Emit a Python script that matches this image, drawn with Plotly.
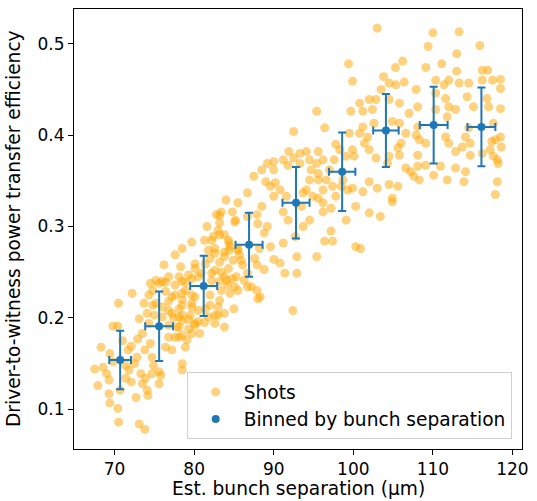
import plotly.graph_objects as go

# ---- Individual shots ----
shots_x = [
    67.5, 68.3, 67.9, 68.55, 69.4, 69.3, 69.8, 70.4, 70.5, 69.3, 69.4, 70.4, 70.5, 69.0, 69.8, 70.7,
    71.0, 71.7, 72.1, 71.4, 71.8, 72.2, 73.1, 72.9, 72.8, 72.5, 73.3, 73.9, 74.1, 73.1, 73.8, 74.2,
    73.5, 72.1, 71.4, 72.7, 73.7, 74.1, 74.3, 73.5, 73.8, 74.5, 74.7, 74.9, 74.7, 75.8, 75.6, 75.6,
    74.3, 75.2, 75.6, 74.5, 76.4, 77.2, 76.8, 76.0, 76.8, 77.6, 77.2, 76.4, 77.8, 79.1, 78.9, 78.5,
    78.5, 78.1, 78.5, 79.5, 80.1, 80.5, 79.7, 78.9, 77.6, 78.1, 79.7, 80.9, 82.2, 82.6, 81.8, 81.4,
    80.1, 81.4, 77.6, 76.2, 75.2,
    87.5, 86.7, 85.5, 84.0, 83.4, 84.8, 85.2, 86.7, 87.9, 87.9, 86.7, 85.9, 85.5, 84.4, 83.8, 83.0,
    82.2, 81.3, 81.8, 82.6, 83.8, 84.4, 83.2, 81.6, 82.8, 79.7, 78.5, 78.3, 80.5, 82.6, 83.8, 84.8,
    84.2, 83.4, 85.5, 86.7, 87.9, 88.3, 85.0, 83.8, 83.0, 81.3, 80.5, 78.5, 74.8, 76.0, 77.2, 78.5,
    79.3, 78.1, 76.8, 80.1, 78.9, 92.4,
    83.2, 85.1, 88.0, 82.4, 83.2, 84.3, 84.5, 83.8, 82.6, 82.0, 83.2, 84.3, 84.9, 85.7, 85.5, 86.1,
    87.6, 88.2, 80.1, 79.3, 76.8, 76.0, 78.5, 77.6, 76.4, 76.8, 78.5, 79.7, 79.7, 78.1, 78.5, 77.4,
    74.8, 75.0, 78.1, 79.3, 80.1, 80.7, 79.7, 78.5, 82.6, 83.0, 83.2, 84.5, 87.2, 88.0, 83.8, 82.0,
    82.0, 83.2, 83.4, 82.2, 84.1, 85.1, 85.3, 86.3,
    99.9, 95.4, 92.5, 96.4, 99.7, 99.5, 100.3, 100.3, 100.9, 99.1, 97.8, 97.6, 98.3, 99.9, 100.1, 98.5,
    99.3, 99.9, 98.7, 97.0, 96.6, 97.4, 97.8, 99.1, 96.2, 95.6, 95.4, 94.5, 94.1, 93.3, 91.9, 92.5,
    93.3, 95.6, 96.2, 94.7, 95.6, 94.5, 94.1, 94.9, 93.7, 95.6, 96.2, 97.2, 96.2, 94.5, 93.7, 92.7,
    91.6, 90.8, 90.0, 89.6, 89.0, 90.0, 89.2, 90.0, 91.2, 88.5, 88.5, 89.2, 88.8, 89.6, 90.0, 90.8,
    91.2, 92.9, 92.9, 88.8, 91.4, 95.4, 96.4, 97.4, 97.2, 104.9, 103.4, 102.0, 99.4,
    91.8, 91.2, 93.5, 90.2, 91.8,
    103.0, 110.0, 113.3, 109.4, 115.9, 113.0, 106.2, 105.3, 109.1, 111.1, 116.2, 116.9, 103.8, 113.0,
    112.0, 110.35, 116.2, 117.5, 118.5, 118.5, 114.5, 113.3, 111.4, 106.4, 105.35, 104.5, 103.5, 104.5,
    102.85, 102.0, 100.8, 101.2, 102.4, 105.8, 107.0, 108.1, 107.9, 110.35, 111.6, 112.0, 112.85, 114.3,
    115.1, 116.8, 117.0, 118.5, 117.6, 117.85, 117.4, 118.5, 118.6, 117.2, 118.1, 117.6, 118.2, 118.1,
    117.85, 116.2, 114.7, 114.1, 113.9, 112.85, 111.8, 110.95, 110.1, 109.1, 108.1, 107.6, 108.3, 107.2,
    108.1, 109.1, 108.3, 111.6, 112.0, 112.85, 111.8, 110.35, 108.1, 107.9, 106.6, 106.0, 105.6, 105.8,
    104.5, 104.3, 102.85, 102.0, 101.4, 101.8, 100.8, 101.2, 102.6, 104.9, 105.8, 106.6, 104.5, 105.6,
    102.0, 103.0, 101.2, 104.9, 114.5, 114.1, 113.7, 114.7,
]
shots_y = [
    0.144, 0.168, 0.126, 0.146, 0.161, 0.132, 0.191, 0.191, 0.216, 0.117, 0.107, 0.101, 0.086, 0.139, 0.152, 0.121,
    0.175, 0.165, 0.169, 0.148, 0.143, 0.227, 0.199, 0.177, 0.157, 0.150, 0.139, 0.134, 0.121, 0.084, 0.078, 0.115,
    0.128, 0.130, 0.134, 0.113, 0.216, 0.205, 0.194, 0.183, 0.165, 0.172, 0.157, 0.148, 0.139, 0.137, 0.128, 0.141,
    0.225, 0.216, 0.238, 0.238, 0.239, 0.223, 0.208, 0.201, 0.192, 0.179, 0.165, 0.168, 0.190, 0.176, 0.168, 0.150,
    0.143, 0.201, 0.214, 0.203, 0.194, 0.196, 0.216, 0.230, 0.236, 0.245, 0.243, 0.249, 0.241, 0.194, 0.201, 0.210,
    0.259, 0.259, 0.269, 0.258, 0.241,
    0.355, 0.337, 0.326, 0.329, 0.316, 0.316, 0.307, 0.311, 0.313, 0.258, 0.249, 0.263, 0.274, 0.282, 0.291, 0.296,
    0.285, 0.285, 0.274, 0.271, 0.267, 0.274, 0.304, 0.300, 0.313, 0.283, 0.276, 0.256, 0.245, 0.252, 0.245, 0.243,
    0.236, 0.230, 0.230, 0.234, 0.230, 0.223, 0.210, 0.190, 0.203, 0.195, 0.208, 0.227, 0.230, 0.212, 0.205, 0.197,
    0.188, 0.179, 0.179, 0.223, 0.239, 0.208,
    0.312, 0.305, 0.303, 0.289, 0.291, 0.285, 0.278, 0.272, 0.276, 0.265, 0.261, 0.254, 0.263, 0.269, 0.276, 0.258,
    0.265, 0.276, 0.254, 0.247, 0.245, 0.240, 0.240, 0.225, 0.229, 0.218, 0.220, 0.225, 0.212, 0.210, 0.203, 0.200,
    0.214, 0.203, 0.190, 0.198, 0.192, 0.183, 0.183, 0.181, 0.203, 0.212, 0.219, 0.227, 0.234, 0.221, 0.205, 0.214,
    0.225, 0.240, 0.250, 0.249, 0.241, 0.234, 0.245, 0.241,
    0.459, 0.426, 0.404, 0.408, 0.426, 0.402, 0.322, 0.278, 0.276, 0.377, 0.390, 0.373, 0.384, 0.384, 0.377, 0.344,
    0.340, 0.342, 0.351, 0.362, 0.351, 0.344, 0.333, 0.307, 0.340, 0.351, 0.369, 0.373, 0.382, 0.380, 0.382, 0.375,
    0.369, 0.382, 0.373, 0.362, 0.358, 0.351, 0.340, 0.333, 0.337, 0.331, 0.326, 0.320, 0.316, 0.307, 0.300, 0.289,
    0.333, 0.340, 0.333, 0.344, 0.349, 0.362, 0.369, 0.371, 0.373, 0.362, 0.322, 0.300, 0.293, 0.278, 0.264, 0.260,
    0.282, 0.267, 0.249, 0.253, 0.249, 0.267, 0.284, 0.284, 0.295, 0.327, 0.311, 0.315, 0.478,
    0.307, 0.316, 0.322, 0.348, 0.367,
    0.517, 0.512, 0.513, 0.497, 0.498, 0.489, 0.481, 0.474, 0.474, 0.478, 0.471, 0.471, 0.464, 0.470,
    0.460, 0.460, 0.460, 0.460, 0.461, 0.451, 0.457, 0.457, 0.455, 0.458, 0.455, 0.457, 0.450, 0.439,
    0.439, 0.439, 0.435, 0.426, 0.428, 0.435, 0.424, 0.431, 0.450, 0.446, 0.440, 0.431, 0.428, 0.442,
    0.431, 0.440, 0.431, 0.429, 0.413, 0.395, 0.393, 0.398, 0.387, 0.384, 0.373, 0.377, 0.369, 0.349,
    0.335, 0.380, 0.378, 0.360, 0.349, 0.364, 0.351, 0.366, 0.356, 0.367, 0.366, 0.355, 0.351, 0.360,
    0.378, 0.391, 0.395, 0.398, 0.391, 0.382, 0.420, 0.428, 0.409, 0.400, 0.402, 0.391, 0.386, 0.378,
    0.377, 0.369, 0.375, 0.384, 0.391, 0.398, 0.402, 0.409, 0.413, 0.415, 0.413, 0.364, 0.346, 0.344,
    0.349, 0.342, 0.338, 0.331, 0.408, 0.398, 0.387, 0.391,
]

# ---- Binned by bunch separation ----
bin_x = [70.7, 75.6, 81.2, 86.9, 92.8, 98.6, 104.1, 110.1, 116.1]
bin_y = [0.154, 0.191, 0.235, 0.280, 0.326, 0.360, 0.405, 0.411, 0.409]
bin_xerr = [1.37, 1.75, 1.7, 1.7, 1.7, 1.66, 1.6, 1.75, 1.75]
bin_yerr = [0.032, 0.038, 0.033, 0.035, 0.039, 0.043, 0.040, 0.042, 0.043]

x_ticks = [70, 80, 90, 100, 110, 120]
y_ticks = [0.1, 0.2, 0.3, 0.4, 0.5]

x_title = "Est. bunch separation (µm)"
y_title = "Driver-to-witness power transfer efficiency"

FONT = "DejaVu Sans"
BLUE = "#1f77b4"
TICK_SIZE = 17
TEXT_SIZE = 18.6

fig = go.Figure()
fig.add_trace(go.Scatter(
    x=shots_x, y=shots_y, mode="markers", name="Shots",
    marker=dict(color="rgba(255,165,0,0.5)", size=9, line=dict(width=0)),
))
fig.add_trace(go.Scatter(
    x=bin_x, y=bin_y, mode="markers", name="Binned by bunch separation",
    marker=dict(color=BLUE, size=8),
    error_y=dict(type="data", array=bin_yerr, color=BLUE, thickness=2, width=4),
    error_x=dict(type="data", array=bin_xerr, color=BLUE, thickness=2, width=4),
))

axis_common = dict(
    showline=True, linecolor="black", linewidth=1, mirror=True,
    ticks="outside", ticklen=5, tickwidth=1, tickcolor="black",
    showgrid=False, zeroline=False,
    tickfont=dict(family=FONT, size=TICK_SIZE, color="black"),
)
fig.update_xaxes(range=[64.9, 121.2], tickvals=x_ticks, ticktext=[str(v) for v in x_ticks], **axis_common)
fig.update_yaxes(range=[0.0566, 0.538], tickvals=y_ticks, ticktext=[f"{v:.1f}" for v in y_ticks], **axis_common)

# axis titles as annotations for precise placement
fig.add_annotation(
    text=x_title, xref="paper", yref="paper", x=0.5, y=0,
    xanchor="center", yanchor="middle", yshift=-39, showarrow=False,
    font=dict(family=FONT, size=TEXT_SIZE, color="black"),
)
fig.add_annotation(
    text=y_title, xref="paper", yref="paper", x=0, y=0.5,
    xanchor="center", yanchor="middle", xshift=-61, textangle=-90, showarrow=False,
    font=dict(family=FONT, size=TEXT_SIZE, color="black"),
)

fig.update_layout(
    width=537, height=501,
    margin=dict(l=74, r=9, t=8, b=52),
    paper_bgcolor="white", plot_bgcolor="white",
    font=dict(family=FONT, size=TEXT_SIZE, color="black"),
    showlegend=True,
    hovermode=False,
    legend=dict(
        x=0.977, y=0.022, xanchor="right", yanchor="bottom",
        bgcolor="rgba(255,255,255,0.8)", bordercolor="#d0d0d0", borderwidth=1,
        font=dict(family=FONT, size=TEXT_SIZE, color="black"),
        itemwidth=46, tracegroupgap=0,
    ),
)
fig.write_html(
    "out.html",
    config={"displayModeBar": False},
    post_script="document.body.style.margin='0';",
)
